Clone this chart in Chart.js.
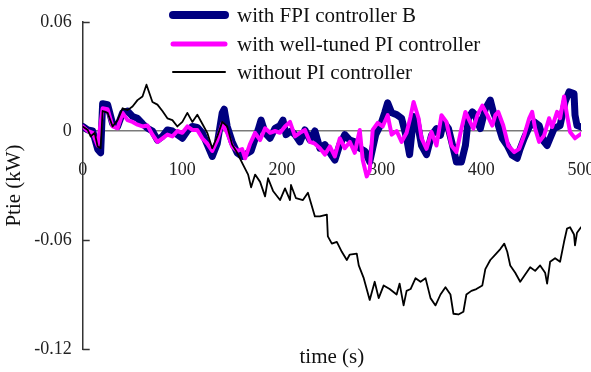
<!DOCTYPE html>
<html>
<head>
<meta charset="utf-8">
<script src="https://cdn.jsdelivr.net/npm/chart.js@4.4.1/dist/chart.umd.min.js"></script>
<style>
  body { margin: 0; background: #fff; }
</style>
</head>
<body>
<canvas id="ptie" width="591" height="372"></canvas>
<script>
// time (s) and Ptie (kW)
var fpiTime = [0,5,10,15,18,20,25,30,35,40,45,50,55,60,65,70,75,80,85,90,95,100,105,110,115,120,125,130,135,140,142,145,150,155,160,163,169,176,179,183,188,193,198,201,204,209,213,218,223,228,233,238,243,248,253,258,263,268,273,278,283,288,291,294,299,303,306,310,315,320,325,328,332,335,340,345,350,355,359,362,367,372,375,380,384,387,391,394,396,399,404,409,412,416,421,426,431,436,439,443,448,453,458,463,466,469,473,476,479,484,488,493,494,496,500];
var fpiValue = [0.0025,0.0006,0,-0.010,-0.012,0.015,0.0145,0.004,0.0025,0.010,0.011,0.008,0.007,0.004,0.0015,0,-0.005,-0.003,0.0006,0,-0.002,-0.004,0,0.0025,0.002,-0.001,-0.0075,-0.014,-0.007,0.010,0.012,0.0025,-0.006,-0.012,-0.014,-0.013,-0.011,0.0006,0.006,-0.001,-0.004,0.0015,0.003,0.006,-0.002,0,-0.002,-0.006,0.0006,-0.005,0,-0.0095,-0.0075,-0.012,-0.016,-0.0075,-0.002,-0.005,-0.006,-0.0095,-0.011,-0.017,-0.0095,-0.002,0.0035,0.010,0.0155,0.010,0.009,0.007,-0.004,-0.013,0.008,0.007,-0.008,-0.013,-0.0024,0.0013,-0.0024,0.005,0.0013,-0.0098,-0.017,-0.017,-0.008,0.007,0.0105,0.0087,0.005,0.0013,0.0123,0.017,0.0105,0.005,-0.004,-0.008,-0.0134,-0.015,-0.0098,-0.004,0.0022,0.005,0.003,-0.006,-0.008,-0.004,0.0013,0.0022,0.003,0.016,0.0215,0.0206,0.0087,0.003,0.0022];

var piTime = [0,5,10,15,20,25,30,35,40,45,50,55,60,65,70,75,80,85,90,95,100,105,110,115,120,125,130,135,140,145,150,155,160,163,168,173,178,183,188,193,198,203,208,213,218,223,228,233,238,243,248,253,258,263,268,273,278,281,285,288,291,296,301,306,310,315,320,325,329,332,337,340,345,350,355,360,365,370,375,380,384,387,392,396,401,406,411,414,417,422,427,433,438,443,448,451,454,458,463,468,471,476,479,483,486,489,494,500];
var piValue = [0.0025,0,-0.001,-0.008,0.0125,0.012,0.0025,0.0015,0.010,0.006,0.005,0.0035,0.0025,0.003,-0.002,-0.006,-0.004,-0.002,-0.003,0,-0.001,0.0025,0.0006,0.0006,-0.004,-0.007,-0.011,-0.005,0.004,-0.001,-0.0085,-0.011,-0.010,-0.015,-0.007,-0.001,-0.005,0.0015,-0.001,0,-0.001,0.0025,0.005,-0.003,-0.001,0.0006,-0.006,-0.007,-0.0095,-0.013,-0.0085,-0.014,-0.004,-0.0095,-0.006,-0.012,0.0006,-0.016,-0.025,-0.0215,0.0006,0.0045,0.0025,0.0087,-0.002,0,-0.006,-0.001,0.008,0.016,0.007,-0.004,-0.0098,-0.0005,-0.008,0.0087,0.005,-0.008,-0.0116,0.0013,0.0105,0.007,0.0013,0.0087,0.014,0.0087,0.003,0.0087,0.0105,0.003,-0.008,-0.0116,-0.0098,-0.0024,0.007,0.0105,0.0013,-0.006,-0.0024,0.007,0.0022,0.0105,0.007,0.019,0.0087,-0.0005,-0.004,-0.0015];

var noPiTime = [0,5,8,12,15,18,20,25,30,35,40,45,50,55,60,64,70,75,80,85,90,95,100,105,110,115,120,125,130,135,140,145,150,155,161,166,169,173,178,183,186,191,198,203,208,209,214,221,226,233,238,245,246,250,255,260,265,268,275,277,282,288,293,297,302,308,315,318,322,325,329,334,339,344,349,354,359,364,369,372,377,382,385,390,395,401,404,409,414,419,423,426,429,434,439,444,449,454,459,464,466,469,474,479,483,486,489,493,494,496,500];
var noPiValue = [0.0025,0.0006,-0.003,-0.001,-0.0085,-0.0095,0.011,0.010,0.0025,0.006,0.0125,0.0115,0.0135,0.017,0.019,0.0255,0.016,0.0145,0.011,0.007,0.006,0.0025,0.005,0.010,0.005,0.009,0.004,-0.001,-0.0095,-0.003,0.005,0.0025,-0.0075,-0.012,-0.0187,-0.024,-0.031,-0.024,-0.028,-0.036,-0.026,-0.033,-0.038,-0.0316,-0.038,-0.0297,-0.037,-0.038,-0.034,-0.047,-0.047,-0.046,-0.058,-0.062,-0.061,-0.0665,-0.071,-0.068,-0.0675,-0.074,-0.081,-0.093,-0.083,-0.092,-0.085,-0.087,-0.090,-0.084,-0.096,-0.088,-0.087,-0.081,-0.083,-0.081,-0.092,-0.096,-0.090,-0.086,-0.090,-0.1006,-0.101,-0.0995,-0.090,-0.088,-0.087,-0.085,-0.076,-0.071,-0.068,-0.065,-0.062,-0.0665,-0.074,-0.078,-0.083,-0.079,-0.075,-0.077,-0.074,-0.078,-0.084,-0.072,-0.070,-0.072,-0.061,-0.0537,-0.053,-0.057,-0.063,-0.056,-0.053];

var seriesLabels = ['with FPI controller B', 'with well-tuned PI controller', 'without PI controller'];
var yTicks = [-0.12, -0.06, 0, 0.06];

var serif = '"Liberation Serif", "Times New Roman", serif';
var legendRows = [15, 44, 72];

function toPoints(times, values) {
  return times.map(function (t, i) { return { x: t, y: values[i] }; });
}

// legend is stacked, left aligned and sits over the plot, so draw it by hand
var stackedLegend = {
  id: 'stackedLegend',
  afterDraw: function (chart) {
    var ctx = chart.ctx;
    ctx.save();
    ctx.font = '21px ' + serif;
    ctx.textBaseline = 'middle';
    ctx.lineCap = 'round';
    chart.data.datasets.forEach(function (ds, i) {
      var y = legendRows[i];
      ctx.strokeStyle = ds.borderColor;
      ctx.lineWidth = ds.legendWidth;
      ctx.beginPath();
      ctx.moveTo(173, y);
      ctx.lineTo(225, y);
      ctx.stroke();
      ctx.fillStyle = '#111';
      ctx.fillText(ds.label, 237, y + 1);
    });
    ctx.restore();
  }
};

// short tick marks pointing into the plot from the y axis
var innerTicks = {
  id: 'innerTicks',
  afterDatasetsDraw: function (chart) {
    var ctx = chart.ctx;
    var y = chart.scales.y;
    var left = chart.chartArea.left;
    ctx.save();
    ctx.strokeStyle = '#333';
    ctx.lineWidth = 1.5;
    yTicks.forEach(function (v) {
      if (v === 0) return;
      var py = Math.round(y.getPixelForValue(v)) + 0.5;
      ctx.beginPath();
      ctx.moveTo(left, py);
      ctx.lineTo(left + 7, py);
      ctx.stroke();
    });
    ctx.restore();
  }
};

var ctx = document.getElementById('ptie');
var chart = new Chart(ctx, {
  type: 'line',
  data: {
    datasets: [{
      label: seriesLabels[0],
      data: toPoints(fpiTime, fpiValue),
      borderColor: '#000080',
      borderWidth: 7,
      legendWidth: 8,
      order: 3
    }, {
      label: seriesLabels[1],
      data: toPoints(piTime, piValue),
      borderColor: '#ff00ff',
      borderWidth: 4,
      legendWidth: 5,
      order: 2
    }, {
      label: seriesLabels[2],
      data: toPoints(noPiTime, noPiValue),
      borderColor: '#000000',
      borderWidth: 1.8,
      legendWidth: 2,
      order: 1
    }]
  },
  options: {
    responsive: false,
    animation: false,
    elements: {
      point: { radius: 0 },
      line: { tension: 0, borderJoinStyle: 'round', borderCapStyle: 'round' }
    },
    layout: { padding: { left: 0, right: 10, top: 22, bottom: 4 } },
    plugins: {
      legend: { display: false },
      tooltip: { enabled: false }
    },
    scales: {
      x: {
        type: 'linear',
        position: { y: 0 },
        min: 0,
        max: 500,
        grid: { display: false, drawTicks: false },
        border: { display: true, color: '#7a7a7a', width: 1.5 },
        ticks: {
          stepSize: 100,
          padding: 28,
          color: '#222',
          font: { family: serif, size: 18 },
          maxRotation: 0
        },
        afterFit: function (s) { s.paddingLeft = 0; s.paddingRight = 0; }
      },
      x2: {
        type: 'linear',
        position: 'bottom',
        min: 0,
        max: 500,
        grid: { display: false, drawTicks: false },
        border: { display: false },
        ticks: { display: false },
        title: {
          display: true,
          text: 'time (s)',
          color: '#111',
          font: { family: serif, size: 21, lineHeight: 1 },
          padding: { top: -2, bottom: 0 }
        }
      },
      y: {
        type: 'linear',
        min: -0.12,
        max: 0.06,
        afterBuildTicks: function (s) {
          s.ticks = yTicks.map(function (v) { return { value: v }; });
        },
        grid: { display: false, drawTicks: false },
        border: { display: true, color: '#333', width: 1.5 },
        ticks: {
          padding: 11,
          color: '#222',
          font: { family: serif, size: 18 },
          callback: function (v) { return v === 0 ? '0' : v.toFixed(2); }
        },
        title: {
          display: true,
          text: 'Ptie (kW)',
          color: '#111',
          font: { family: serif, size: 21 },
          padding: { top: 2, bottom: -4 }
        }
      }
    }
  },
  plugins: [innerTicks, stackedLegend]
});
</script>
</body>
</html>
